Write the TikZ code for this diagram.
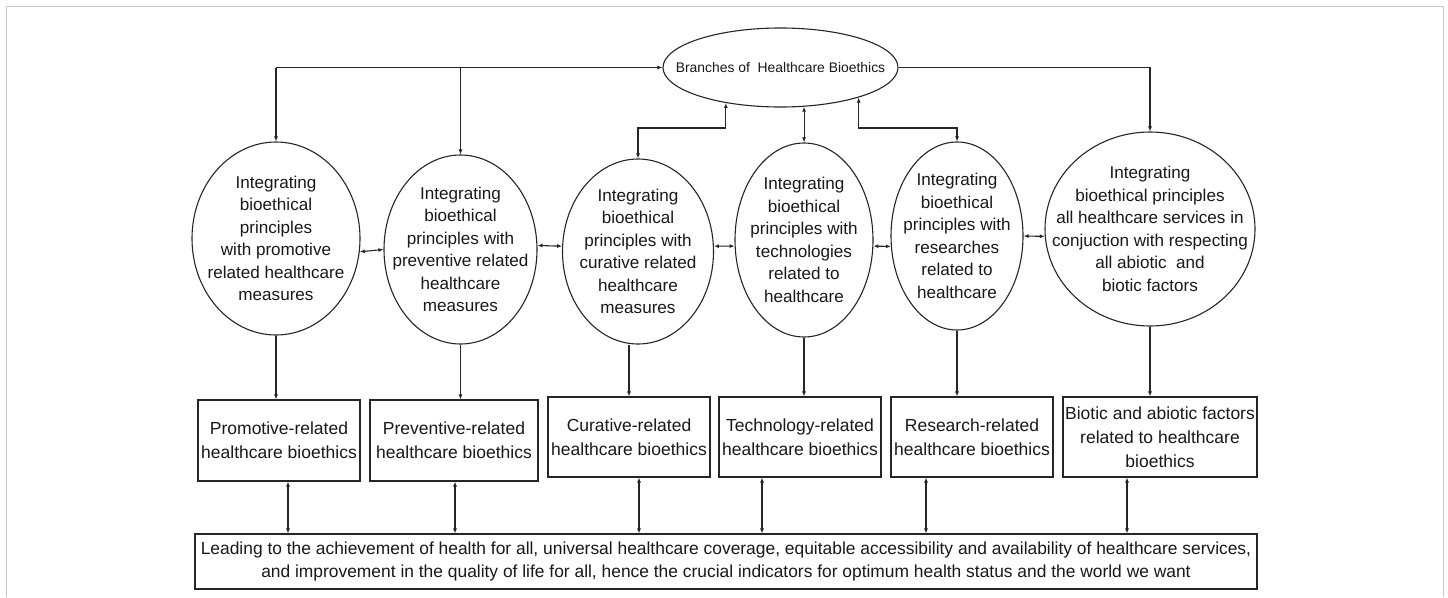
\documentclass[tikz,border=0pt]{standalone}
\usepackage{fontspec}
\setmainfont{Liberation Sans}
\usetikzlibrary{shapes.geometric,arrows.meta,shadows}
\begin{document}
\begin{tikzpicture}[x=1pt,y=-1pt,
  wire/.style={draw=black!85, line width=1.1pt},
  arr/.style={wire, -{Latex[length=5pt,width=4pt]}},
  dbl/.style={wire, {Latex[length=5pt,width=4pt]}-{Latex[length=5pt,width=4pt]}},
  bubble/.style={ellipse, draw=black!85, line width=1.1pt, inner sep=0pt, fill=white},
  caption/.style={align=center, inner sep=0pt, text=black!90,
    font=\fontsize{17.1}{22.5}\selectfont},
  panel/.style={rectangle, draw=black!85, line width=1.1pt, fill=white, inner sep=0pt,
    align=center, text=black!90, font=\fontsize{17.5}{24}\selectfont,
    drop shadow={shadow xshift=1.2pt, shadow yshift=-1.2pt, fill=black!45, opacity=.5}}
]
% canvas and thin frame
\useasboundingbox (0,0) rectangle (1448,597);
\draw[black!22, line width=1pt] (6,597) -- (6,6) -- (1443,6) -- (1443,597);

% root
\node[bubble, minimum width=235pt, minimum height=79pt] (top) at (780.5,67.5) {};
\node[caption, font=\fontsize{13.9}{16}\selectfont] (toptext) at (top.center) {Branches of~ Healthcare Bioethics};

% ellipses
\node[bubble, minimum width=168pt, minimum height=193pt] (e1) at (276,238.5) {};
\node[caption] (t1) at (e1.center) {Integrating\\bioethical\\principles\\with promotive\\related healthcare\\measures};
\node[bubble, minimum width=153pt, minimum height=189pt] (e2) at (460.5,249.5) {};
\node[caption] (t2) at (e2.center) {Integrating\\bioethical\\principles with\\preventive related\\healthcare\\measures};
\node[bubble, minimum width=151pt, minimum height=185pt] (e3) at (638,251.5) {};
\node[caption] (t3) at (e3.center) {Integrating\\bioethical\\principles with\\curative related\\healthcare\\measures};
\node[bubble, minimum width=138pt, minimum height=194pt] (e4) at (804,240) {};
\node[caption] (t4) at (e4.center) {Integrating\\bioethical\\principles with\\technologies\\related to\\healthcare};
\node[bubble, minimum width=132pt, minimum height=188pt] (e5) at (957,236) {};
\node[caption] (t5) at (e5.center) {Integrating\\bioethical\\principles with\\researches\\related to\\healthcare};
\node[bubble, minimum width=210pt, minimum height=194pt] (e6) at (1150,229) {};
\node[caption] (t6) at (e6.center) {Integrating\\bioethical principles\\all healthcare services in\\conjuction with respecting\\all abiotic~ and\\biotic factors};

% boxes
\node[panel, minimum width=162pt, minimum height=81pt] (b1) at (279,440.5) {Promotive-related\\healthcare bioethics};
\node[panel, minimum width=168pt, minimum height=81pt] (b2) at (454,440.5) {Preventive-related\\healthcare bioethics};
\node[panel, minimum width=162pt, minimum height=80pt] (b3) at (629,437) {Curative-related\\healthcare bioethics};
\node[panel, minimum width=162pt, minimum height=80pt] (b4) at (800,437) {Technology-related\\healthcare bioethics};
\node[panel, minimum width=162pt, minimum height=80pt] (b5) at (972,437) {Research-related\\healthcare bioethics};
\node[panel, minimum width=194pt, minimum height=80pt] (b6) at (1160,437) {Biotic and abiotic factors\\related to healthcare\\bioethics};
\node[panel, minimum width=1062pt, minimum height=55pt, font=\fontsize{17.4}{23}\selectfont] (bot) at (726,561.5)
  {Leading to the achievement of health for all, universal healthcare coverage, equitable accessibility and availability of healthcare services,\\
   and improvement in the quality of life for all, hence the crucial indicators for optimum health status and the world we want};

% root to the outer ellipses
\coordinate (hl) at (e1.north |- top.west);
\coordinate (hm) at (e2.north |- top.west);
\coordinate (kc) at (0,128);
\draw[arr] (hl) -- (top.west);
\draw[arr] (hl) -- (e1.north);
\draw[arr] (hm) -- (e2.north);
\draw[arr] (top.east) -| (e6.north);

% root to the middle ellipses
\draw[dbl] (top.213) |- (kc -| e3.north) -- (e3.north);
\draw[dbl] (top.301) -- (top.301 |- e4.north);
\draw[dbl] (top.339) |- (kc -| e5.north) -- (e5.north);

% links between neighbouring ellipses
\draw[dbl] (e1.-9) -- (e2.west);
\draw[dbl] (e2.3) -- (e3.176);
\draw[dbl] (e3.4) -- (e4.185);
\draw[dbl] (e4.-5) -- (e5.189);
\draw[dbl] (e5.east) -- (e6.184);

% ellipses to boxes
\draw[arr] (e1.south) -- (e1.south |- b1.north);
\draw[arr] (e2.south) -- (e2.south |- b2.north);
\draw[arr] (b3.north |- e3.south) -- (b3.north);
\draw[arr] (e4.south) -- (e4.south |- b4.north);
\draw[arr] (e5.south) -- (e5.south |- b5.north);
\draw[arr] (e6.south) -- (e6.south |- b6.north);

% boxes to the outcome
\draw[dbl] ([xshift=9pt]b1.south) -- ([xshift=9pt]b1.south |- bot.north);
\draw[dbl] ([xshift=1pt]b2.south) -- ([xshift=1pt]b2.south |- bot.north);
\draw[dbl] ([xshift=10pt]b3.south) -- ([xshift=10pt]b3.south |- bot.north);
\draw[dbl] ([xshift=-38pt]b4.south) -- ([xshift=-38pt]b4.south |- bot.north);
\draw[dbl] ([xshift=-46pt]b5.south) -- ([xshift=-46pt]b5.south |- bot.north);
\draw[dbl] ([xshift=-33pt]b6.south) -- ([xshift=-33pt]b6.south |- bot.north);
\end{tikzpicture}
\end{document}
